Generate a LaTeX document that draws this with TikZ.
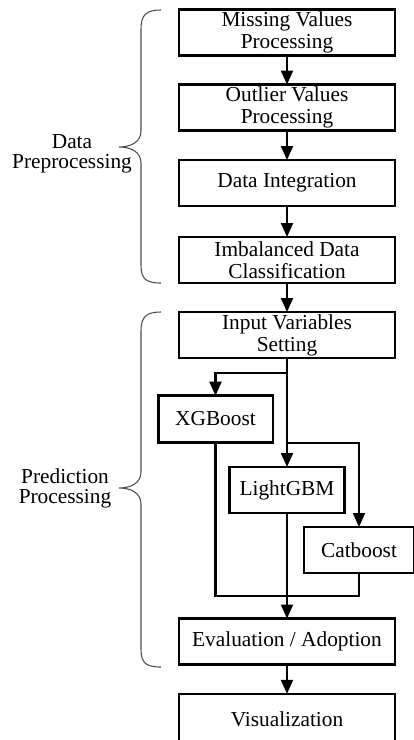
\documentclass[tikz,border=0pt]{standalone}
\usepackage{fontspec}
\setmainfont{Liberation Serif}
\usetikzlibrary{arrows.meta}

\tikzset{
  stepbox/.style={draw, line width=2pt, rectangle, outer sep=0pt, inner sep=0pt,
    align=center, font=\fontsize{16}{16.5}\selectfont},
  wide/.style={stepbox, minimum width=162pt, minimum height=34.5pt},
  model/.style={stepbox, minimum width=86pt, minimum height=35pt},
  flow/.style={line width=1.6pt, -{Triangle[width=9pt,length=10.5pt]}},
  plain/.style={line width=1.6pt},
  brace/.style={line width=0.8pt, draw=black!70},
  phase/.style={align=center, font=\fontsize{16}{15}\selectfont}
}

\begin{document}
\begin{tikzpicture}[x=0.75pt, y=-0.75pt]
  \useasboundingbox (0,0) rectangle (414,740);
  \clip (0,0) rectangle (414,740);

  % main column of steps
  \node[wide] (miss) at (287,32.5) {Missing Values\\Processing};
  \node[wide] (out)  at (287,107.5) {Outlier Values\\Processing};
  \node[wide] (integ) at (287,183) {Data Integration};
  \node[wide] (imb)  at (287,260) {Imbalanced Data\\Classification};
  \node[wide] (inp)  at (287,335) {Input Variables\\Setting};

  % the three models
  \node[model] (xgb) at (215.5,419) {XGBoost};
  \node[model, minimum height=34.5pt] (lgb) at (287,490) {LightGBM};
  \node[model, minimum width=82.5pt, minimum height=34.5pt] (cat) at (359,550) {Catboost};

  \node[wide] (eval) at (287,641.5) {Evaluation / Adoption};
  \node[wide, minimum height=40pt] (vis) at (287,720.5) {\raisebox{2.5pt}{Visualization}};

  % branching points
  \coordinate (split1) at (287,373);
  \coordinate (split2) at (287,443);
  \coordinate (merge)  at (287,596);

  % connectors
  \draw[flow] (miss) -- (out);
  \draw[flow] (out) -- (integ);
  \draw[flow] (integ) -- (imb);
  \draw[flow] (imb) -- (inp);
  \draw[flow] (inp) -- (lgb);
  \draw[flow] (split1) -| (xgb.north);
  \draw[flow] (split2) -| (cat.north);
  \draw[plain] (xgb.south) |- (merge) -| (cat.south);
  \draw[flow] (lgb) -- (eval);
  \draw[flow] (eval) -- (vis);

  % phase braces
  \draw[brace] (161,10) .. controls (146,10) and (141,15) .. (141,29)
    -- (141,131) .. controls (141,142) and (131,147) .. (119,147)
    .. controls (131,147) and (141,152) .. (141,163)
    -- (141,265) .. controls (141,279) and (146,283) .. (161,283);
  \draw[brace] (161,312) .. controls (146,312) and (141,317) .. (141,331)
    -- (141,472) .. controls (141,483) and (131,488) .. (119,488)
    .. controls (131,488) and (141,493) .. (141,504)
    -- (141,649) .. controls (141,663) and (146,667) .. (161,667);

  \node[phase] (prep) at (72,154) {Data\\Preprocessing};
  \node[phase] (pred) at (65,488) {Prediction\\Processing};
\end{tikzpicture}
\end{document}
